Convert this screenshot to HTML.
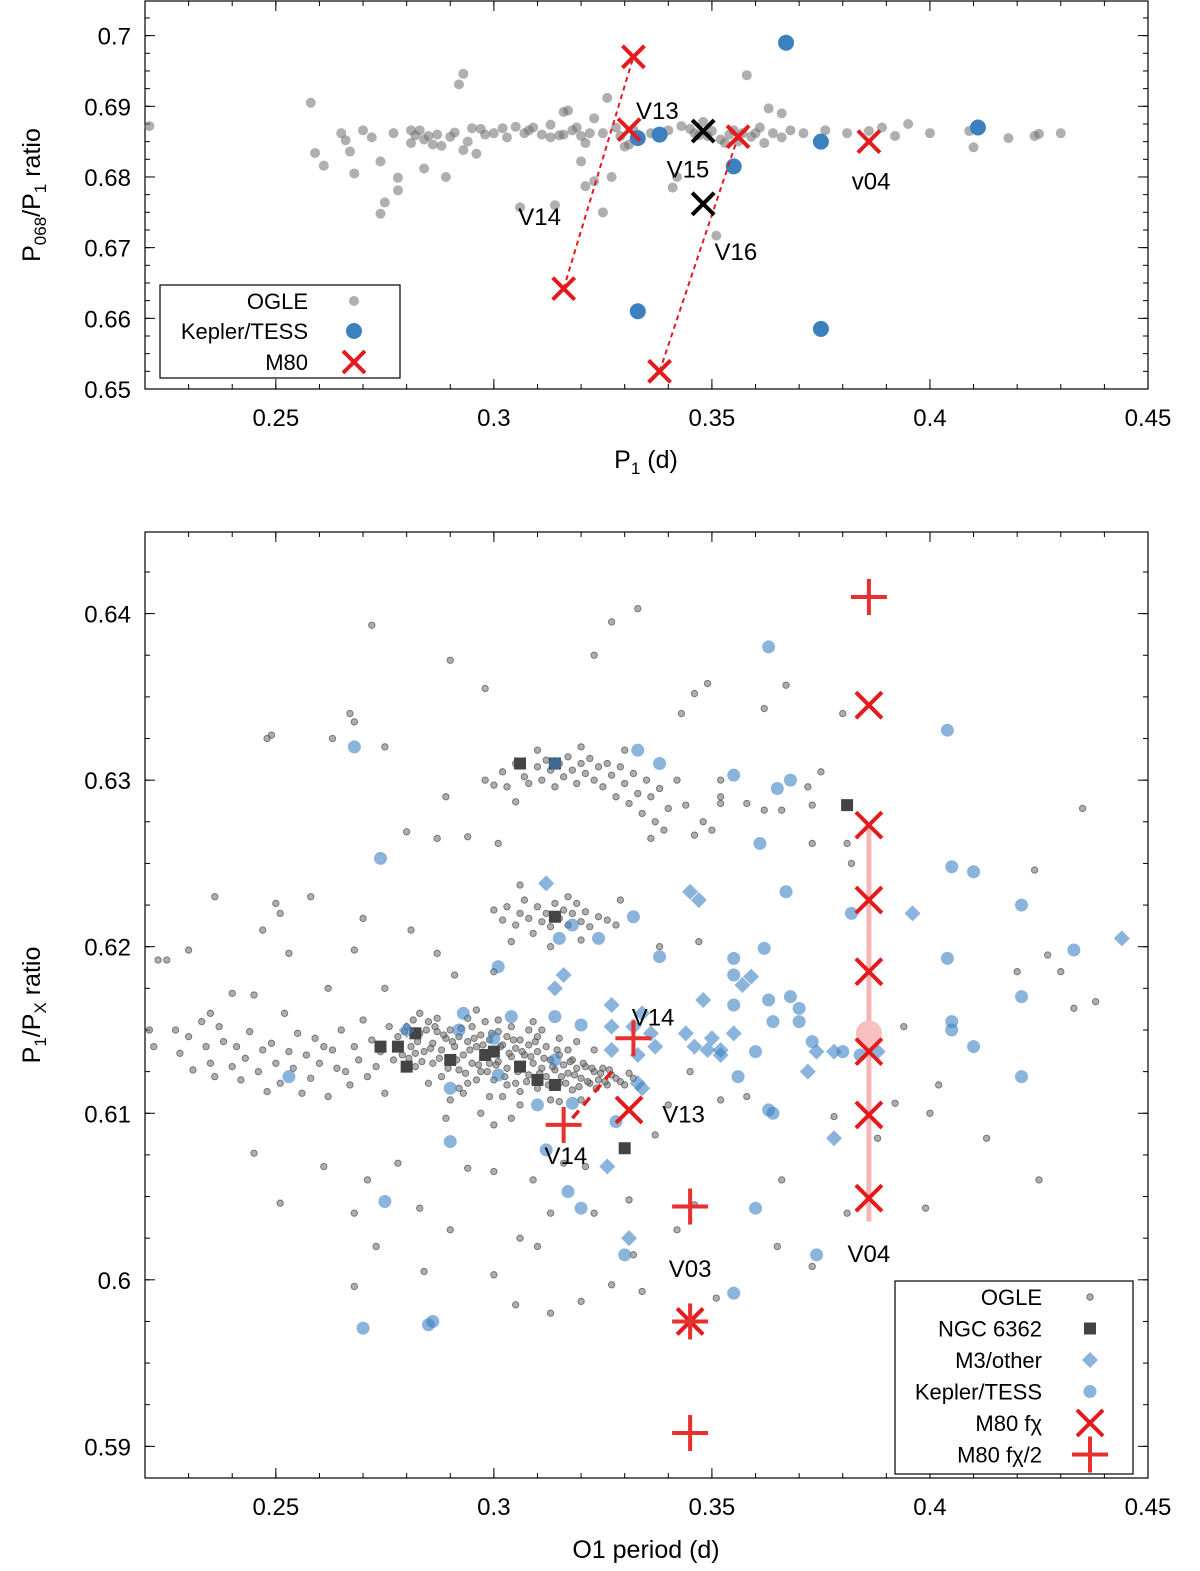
<!DOCTYPE html>
<html><head><meta charset="utf-8"><style>
body{margin:0;background:#fff;}
svg{display:block;font-family:"Liberation Sans",sans-serif;}
</style></head><body>
<svg id="fig" width="1200" height="1571" viewBox="0 0 1200 1571" xmlns="http://www.w3.org/2000/svg"></svg>
<script>
// ---------- TOP PANEL DATA ----------
const topOgle = [[0.221,0.6872],[0.258,0.6905],[0.259,0.6834],[0.261,0.6816],[0.265,0.6862],[0.266,0.6852],[0.267,0.6836],[0.268,0.6805],[0.270,0.6866],[0.272,0.6856],[0.274,0.6822],[0.274,0.6748],[0.275,0.6764],[0.277,0.6862],[0.278,0.6799],[0.278,0.6781],[0.281,0.6866],[0.281,0.6848],[0.282,0.6859],[0.283,0.6866],[0.284,0.6853],[0.284,0.6812],[0.285,0.6858],[0.286,0.6846],[0.287,0.6860],[0.288,0.6844],[0.289,0.6800],[0.290,0.6857],[0.291,0.6863],[0.292,0.6931],[0.293,0.6946],[0.293,0.6838],[0.294,0.6850],[0.295,0.6869],[0.296,0.6833],[0.297,0.6868],[0.298,0.6860],[0.300,0.6862],[0.302,0.6869],[0.303,0.6856],[0.305,0.6871],[0.306,0.6757],[0.307,0.6862],[0.308,0.6866],[0.309,0.6870],[0.311,0.6860],[0.313,0.6856],[0.313,0.6874],[0.314,0.6760],[0.315,0.6859],[0.316,0.6892],[0.316,0.6860],[0.317,0.6894],[0.318,0.6866],[0.319,0.6870],[0.320,0.6858],[0.320,0.6822],[0.321,0.6848],[0.321,0.6787],[0.322,0.6862],[0.323,0.6794],[0.323,0.6883],[0.325,0.6862],[0.325,0.6750],[0.326,0.6912],[0.327,0.6800],[0.328,0.6870],[0.329,0.6858],[0.330,0.6843],[0.331,0.6846],[0.332,0.6867],[0.336,0.6862],[0.340,0.6866],[0.341,0.6785],[0.342,0.6800],[0.343,0.6872],[0.345,0.6868],[0.346,0.6862],[0.347,0.6859],[0.348,0.6878],[0.349,0.6858],[0.350,0.6865],[0.351,0.6717],[0.352,0.6853],[0.353,0.6848],[0.354,0.6860],[0.355,0.6866],[0.356,0.6850],[0.357,0.6862],[0.358,0.6944],[0.359,0.6857],[0.360,0.6862],[0.361,0.6870],[0.362,0.6848],[0.363,0.6897],[0.364,0.6862],[0.366,0.6890],[0.366,0.6856],[0.368,0.6866],[0.371,0.6862],[0.376,0.6866],[0.381,0.6862],[0.386,0.6865],[0.389,0.6870],[0.392,0.6858],[0.395,0.6875],[0.400,0.6862],[0.409,0.6865],[0.410,0.6842],[0.418,0.6855],[0.424,0.6858],[0.425,0.6861],[0.430,0.6862]];
const topKepler = [[0.333,0.6855],[0.338,0.686],[0.367,0.699],[0.355,0.6815],[0.375,0.685],[0.411,0.687],[0.333,0.661],[0.375,0.6585]];
const topM80 = [[0.332,0.697],[0.331,0.6867],[0.356,0.6857],[0.386,0.685],[0.316,0.6642],[0.338,0.6525]];
const topBlack = [[0.348,0.6865],[0.348,0.6762]];
const topLinks = [[0.316,0.6642,0.332,0.697],[0.338,0.6525,0.356,0.6857]];
const topLabels = [["V13",0.3375,0.6895],["V15",0.3445,0.6812],["v04",0.3865,0.6795],["V14",0.3105,0.6745],["V16",0.3555,0.6695]];
const topXTicks = [0.25,0.3,0.35,0.4,0.45];
const topYTicks = [0.65,0.66,0.67,0.68,0.69,0.7];

// ---------- BOTTOM PANEL DATA ----------
const botOgle = [[0.221,0.6150],[0.222,0.6140],[0.225,0.6192],[0.227,0.6150],[0.228,0.6136],[0.230,0.6146],[0.231,0.6126],[0.233,0.6155],[0.234,0.6140],[0.235,0.6130],[0.236,0.6122],[0.237,0.6152],[0.238,0.6143],[0.240,0.6128],[0.241,0.6140],[0.242,0.6120],[0.243,0.6133],[0.244,0.6149],[0.245,0.6171],[0.245,0.6076],[0.246,0.6125],[0.247,0.6138],[0.248,0.6113],[0.249,0.6142],[0.250,0.6130],[0.251,0.6118],[0.252,0.6160],[0.253,0.6137],[0.254,0.6127],[0.255,0.6148],[0.256,0.6112],[0.257,0.6135],[0.258,0.6121],[0.259,0.6145],[0.260,0.6130],[0.261,0.6140],[0.262,0.6110],[0.263,0.6138],[0.264,0.6127],[0.265,0.6150],[0.266,0.6125],[0.267,0.6117],[0.268,0.6140],[0.269,0.6132],[0.270,0.6156],[0.271,0.6122],[0.272,0.6144],[0.273,0.6128],[0.274,0.6137],[0.275,0.6112],[0.276,0.6152],[0.277,0.6132],
[0.278,0.6146],[0.279,0.6135],[0.280,0.6152],[0.281,0.6140],[0.282,0.6128],[0.283,0.6148],[0.284,0.6137],[0.285,0.6155],[0.286,0.6142],[0.286,0.6130],[0.287,0.6149],[0.288,0.6138],[0.288,0.6122],[0.289,0.6145],[0.290,0.6133],[0.290,0.6150],[0.291,0.6140],[0.292,0.6126],[0.292,0.6146],[0.293,0.6135],[0.294,0.6143],[0.294,0.6118],[0.295,0.6152],[0.295,0.6130],[0.296,0.6140],[0.297,0.6125],[0.297,0.6147],[0.298,0.6136],[0.299,0.6130],[0.299,0.6144],[0.300,0.6138],[0.300,0.6120],[0.301,0.6149],[0.301,0.6131],[0.302,0.6141],[0.303,0.6127],[0.303,0.6146],[0.304,0.6134],[0.305,0.6139],[0.305,0.6118],[0.306,0.6144],[0.306,0.6128],[0.307,0.6135],[0.308,0.6123],[0.308,0.6141],[0.309,0.6130],[0.310,0.6137],[0.310,0.6115],[0.311,0.6127],[0.312,0.6140],[0.312,0.6122],[0.313,0.6132],[0.314,0.6126],[0.315,0.6135],[0.315,0.6118],[0.316,0.6129],[0.317,0.6124],[0.318,0.6132],[0.318,0.6114],[0.319,0.6127],[0.320,0.6121],[0.321,0.6128],[0.322,0.6118],[0.323,0.6125],[0.324,0.6120],[0.325,0.6127],[0.326,0.6117],[0.327,0.6123],[0.329,0.6119],[0.331,0.6124],[0.283,0.6160],[0.290,0.6108],[0.296,0.6162],[0.302,0.6110],[0.309,0.6155],[0.315,0.6107],[0.297,0.6100],[0.304,0.6097],[0.311,0.6150],[0.289,0.6097],[0.300,0.6093],[0.306,0.6105],[0.293,0.6112],[0.319,0.6143],[0.323,0.6138],
[0.2785,0.6141],[0.2795,0.6149],[0.2805,0.6133],[0.2815,0.6156],[0.2825,0.6143],[0.2835,0.6131],[0.2845,0.6150],[0.2855,0.6139],[0.2865,0.6152],[0.2875,0.6133],[0.2885,0.6147],[0.2895,0.6127],[0.2905,0.6143],[0.2915,0.6132],[0.2925,0.6151],[0.2935,0.6124],[0.2945,0.6138],[0.2955,0.6145],[0.2965,0.6129],[0.2975,0.6141],[0.2985,0.6125],[0.2995,0.6148],[0.3005,0.6129],[0.3015,0.6140],[0.3025,0.6122],[0.3035,0.6136],[0.3045,0.6144],[0.3055,0.6125],[0.3065,0.6137],[0.3075,0.6119],[0.3085,0.6134],[0.3095,0.6143],[0.3105,0.6124],[0.3115,0.6133],[0.3125,0.6117],[0.3135,0.6128],[0.3145,0.6138],[0.3155,0.6122],[0.3165,0.6118],[0.3175,0.6131],[0.3185,0.6123],[0.3195,0.6116],[0.3205,0.6130],[0.3215,0.6119],[0.3225,0.6127],[0.3235,0.6115],[0.3245,0.6124],[0.3255,0.6119],[0.3265,0.6126],[0.3280,0.6121],[0.3300,0.6117],[0.3320,0.6121],[0.2870,0.6157],[0.2940,0.6157],[0.3010,0.6156],[0.3080,0.6150],[0.3150,0.6145],[0.2920,0.6115],[0.2990,0.6110],[0.3060,0.6113],[0.3130,0.6108],[0.3200,0.6108],[0.2850,0.6118],[0.2820,0.6136],[0.2960,0.6120],[0.3030,0.6117],[0.3100,0.6146],[0.3170,0.6138],[0.3040,0.6152],[0.2980,0.6155],
[0.298,0.6300],[0.300,0.6297],[0.302,0.6305],[0.303,0.6296],[0.305,0.6310],[0.307,0.6302],[0.308,0.6298],[0.310,0.6308],[0.311,0.6300],[0.312,0.6312],[0.313,0.6306],[0.314,0.6296],[0.315,0.6310],[0.316,0.6302],[0.317,0.6314],[0.318,0.6306],[0.319,0.6298],[0.320,0.6310],[0.321,0.6304],[0.322,0.6313],[0.323,0.6300],[0.324,0.6308],[0.325,0.6296],[0.326,0.6310],[0.327,0.6303],[0.328,0.6290],[0.329,0.6308],[0.330,0.6298],[0.331,0.6286],[0.332,0.6304],[0.333,0.6292],[0.334,0.6280],[0.335,0.6300],[0.336,0.6290],[0.337,0.6275],[0.338,0.6295],[0.339,0.6270],[0.340,0.6283],[0.342,0.6300],[0.344,0.6285],[0.330,0.6318],[0.320,0.6320],[0.310,0.6318],[0.305,0.6287],[0.336,0.6265],[0.348,0.6275],[0.352,0.6300],[0.352,0.6290],
[0.300,0.6222],[0.302,0.6216],[0.303,0.6224],[0.305,0.6213],[0.306,0.6220],[0.307,0.6228],[0.308,0.6217],[0.309,0.6208],[0.310,0.6224],[0.311,0.6215],[0.312,0.6220],[0.313,0.6212],[0.314,0.6226],[0.315,0.6217],[0.316,0.6222],[0.317,0.6213],[0.318,0.6220],[0.319,0.6226],[0.320,0.6215],[0.321,0.6221],[0.322,0.6212],[0.324,0.6218],[0.326,0.6216],[0.328,0.6213],[0.329,0.6228],[0.304,0.6203],[0.313,0.6200],[0.320,0.6204],[0.306,0.6237],[0.317,0.6230],
[0.267,0.6340],[0.268,0.6335],[0.272,0.6393],[0.249,0.6327],[0.248,0.6325],[0.263,0.6325],[0.275,0.6320],[0.290,0.6372],[0.298,0.6355],[0.323,0.6375],[0.327,0.6395],[0.333,0.6403],[0.346,0.6352],[0.349,0.6358],[0.343,0.6340],[0.362,0.6343],[0.367,0.6357],[0.380,0.6340],[0.372,0.6296],[0.375,0.6305],[0.373,0.6285],[0.381,0.6262],[0.382,0.6250],[0.373,0.6262],[0.366,0.6282],[0.362,0.6282],[0.358,0.6286],[0.352,0.6286],[0.350,0.6270],[0.346,0.6267],[0.435,0.6283],[0.289,0.6290],[0.294,0.6266],[0.301,0.6262],[0.280,0.6269],[0.287,0.6265],[0.258,0.6230],[0.236,0.6230],[0.247,0.6210],[0.250,0.6226],[0.251,0.6220],[0.270,0.6217],[0.281,0.6210],[0.287,0.6196],[0.291,0.6183],[0.300,0.6185],[0.230,0.6198],[0.223,0.6192],[0.253,0.6196],[0.275,0.6175],[0.240,0.6172],[0.235,0.6160],[0.262,0.6175],[0.268,0.6198],[0.424,0.6246],[0.430,0.6185],[0.427,0.6195],[0.420,0.6185],[0.433,0.6163],[0.438,0.6167],[0.347,0.6203],[0.338,0.6200],[0.394,0.6152],[0.402,0.6117],[0.413,0.6085],[0.400,0.6100],[0.392,0.6106],[0.388,0.6085],[0.378,0.6098],[0.358,0.6110],[0.352,0.6108],[0.345,0.6125],[0.340,0.6105],[0.337,0.6087],[0.300,0.6065],[0.309,0.6060],[0.294,0.6067],[0.278,0.6070],[0.271,0.6060],[0.268,0.6040],[0.261,0.6068],[0.251,0.6046],[0.283,0.6043],[0.290,0.6030],[0.316,0.6070],[0.321,0.6068],[0.323,0.6040],[0.331,0.6048],[0.313,0.6040],[0.300,0.6003],[0.327,0.5997],[0.305,0.5985],[0.320,0.5987],[0.268,0.5996],[0.273,0.6020],[0.284,0.6005],[0.365,0.6020],[0.373,0.6008],[0.351,0.5989],[0.342,0.6030],[0.346,0.6045],[0.366,0.6060],[0.425,0.6060],[0.399,0.6043],[0.381,0.6040],[0.334,0.5993],[0.313,0.5980],[0.332,0.6015],[0.310,0.6020],[0.306,0.6025]];
const botNgc = [[0.274,0.614],[0.278,0.614],[0.280,0.6128],[0.282,0.6148],[0.290,0.6132],[0.306,0.631],[0.314,0.631],[0.314,0.6218],[0.306,0.6128],[0.310,0.612],[0.314,0.6117],[0.300,0.6137],[0.330,0.6079],[0.381,0.6285],[0.298,0.6135]];
const botM3 = [[0.312,0.6238],[0.316,0.6183],[0.314,0.6175],[0.327,0.6165],[0.327,0.6152],[0.332,0.6152],[0.334,0.616],[0.336,0.6148],[0.337,0.614],[0.333,0.6135],[0.333,0.6118],[0.327,0.6138],[0.345,0.6233],[0.347,0.6228],[0.348,0.6168],[0.344,0.6148],[0.350,0.6145],[0.346,0.614],[0.352,0.6135],[0.355,0.6148],[0.357,0.6177],[0.359,0.6182],[0.352,0.6138],[0.349,0.6138],[0.372,0.6125],[0.374,0.6137],[0.378,0.6137],[0.378,0.6085],[0.396,0.622],[0.388,0.6137],[0.444,0.6205],[0.326,0.6068],[0.331,0.6025],[0.280,0.615],[0.334,0.6115]];
const botKepler = [[0.363,0.638],[0.404,0.633],[0.268,0.632],[0.333,0.6318],[0.314,0.631],[0.338,0.631],[0.355,0.6303],[0.365,0.6295],[0.368,0.630],[0.274,0.6253],[0.361,0.6262],[0.367,0.6233],[0.405,0.6248],[0.410,0.6245],[0.421,0.6225],[0.382,0.622],[0.332,0.6218],[0.318,0.6213],[0.315,0.6205],[0.324,0.6205],[0.301,0.6188],[0.338,0.6194],[0.355,0.6193],[0.362,0.6199],[0.355,0.6183],[0.404,0.6193],[0.433,0.6198],[0.421,0.617],[0.355,0.6165],[0.363,0.6168],[0.368,0.617],[0.370,0.6163],[0.364,0.6155],[0.370,0.6155],[0.405,0.6155],[0.405,0.615],[0.410,0.614],[0.293,0.616],[0.304,0.6158],[0.314,0.6158],[0.320,0.6153],[0.292,0.615],[0.300,0.6145],[0.380,0.6137],[0.385,0.6145],[0.360,0.6137],[0.373,0.6143],[0.384,0.6135],[0.356,0.6122],[0.363,0.6102],[0.364,0.61],[0.421,0.6122],[0.253,0.6122],[0.290,0.6115],[0.310,0.6105],[0.318,0.6106],[0.290,0.6083],[0.328,0.6095],[0.312,0.6078],[0.317,0.6053],[0.320,0.6043],[0.330,0.6015],[0.360,0.6043],[0.374,0.6015],[0.355,0.5992],[0.270,0.5971],[0.286,0.5975],[0.285,0.5973],[0.275,0.6047],[0.301,0.6123],[0.314,0.6132]];
const botFx = [[0.386,0.6345],[0.386,0.6273],[0.386,0.6228],[0.386,0.6185],[0.386,0.6137],[0.386,0.6099],[0.386,0.6049],[0.331,0.6102],[0.345,0.5975]];
const botFx2 = [[0.386,0.641],[0.332,0.6145],[0.316,0.6093],[0.345,0.6044],[0.345,0.5975],[0.345,0.5908]];
const botV04Range = [0.386,0.6273,0.6035];
const botV04Mean = [0.386,0.6148];
const botLink = [0.318,0.6097,0.328,0.6128];
const botLabels = [["V14",0.3365,0.6158],["V13",0.3435,0.6100],["V14",0.3165,0.6075],["V03",0.345,0.6007],["V04",0.386,0.6016]];
const botXTicks = [0.25,0.3,0.35,0.4,0.45];
const botYTicks = [0.59,0.6,0.61,0.62,0.63,0.64];

const NS="http://www.w3.org/2000/svg";
const svg=document.getElementById('fig');
function mk(tag,attrs,parent){const e=document.createElementNS(NS,tag);for(const k in attrs)e.setAttribute(k,attrs[k]);(parent||svg).appendChild(e);return e;}
function txt(s,x,y,size,anchor,parent){const t=mk('text',{x:x,y:y,'font-size':size,'text-anchor':anchor||'middle',fill:'#000'},parent);t.textContent=s;return t;}

function axes(L,R,T,B,x0,x1,y0,y1){
  const sx=v=>L+(v-x0)/(x1-x0)*(R-L);
  const sy=v=>B-(v-y0)/(y1-y0)*(B-T);
  return {sx,sy};
}
function frame(g,L,R,T,B,sx,sy,xt,yt,xMinorStep,yMinorStep,x0,x1,y0,y1){
  mk('rect',{x:L,y:T,width:R-L,height:B-T,fill:'none',stroke:'#000','stroke-width':1.2},g);
  for(let v=Math.ceil(x0/xMinorStep-1e-9)*xMinorStep;v<=x1+1e-9;v+=xMinorStep){const X=sx(v);mk('line',{x1:X,y1:B,x2:X,y2:B-5,stroke:'#000'},g);mk('line',{x1:X,y1:T,x2:X,y2:T+5,stroke:'#000'},g);}
  for(let v=Math.ceil(y0/yMinorStep-1e-9)*yMinorStep;v<=y1+1e-9;v+=yMinorStep){const Y=sy(v);mk('line',{x1:L,y1:Y,x2:L+5,y2:Y,stroke:'#000'},g);mk('line',{x1:R,y1:Y,x2:R-5,y2:Y,stroke:'#000'},g);}
  xt.forEach(v=>{const X=sx(v);mk('line',{x1:X,y1:B,x2:X,y2:B-10,stroke:'#000'},g);mk('line',{x1:X,y1:T,x2:X,y2:T+10,stroke:'#000'},g);
    const t=txt(String(v),X,B+37,24,'middle',g);});
  yt.forEach(v=>{const Y=sy(v);mk('line',{x1:L,y1:Y,x2:L+10,y2:Y,stroke:'#000'},g);mk('line',{x1:R,y1:Y,x2:R-10,y2:Y,stroke:'#000'},g);
    const t=txt(String(v),L-14,Y+9,24,'end',g);});
}
function cross(g,x,y,s,color,w){mk('line',{x1:x-s,y1:y-s,x2:x+s,y2:y+s,stroke:color,'stroke-width':w},g);mk('line',{x1:x-s,y1:y+s,x2:x+s,y2:y-s,stroke:color,'stroke-width':w},g);}
function plus(g,x,y,s,color,w){mk('line',{x1:x-s,y1:y,x2:x+s,y2:y,stroke:color,'stroke-width':w},g);mk('line',{x1:x,y1:y-s,x2:x,y2:y+s,stroke:color,'stroke-width':w},g);}

// ===== TOP PANEL =====
(function(){
  const L=145,R=1148,T=1,B=389,x0=0.22,x1=0.45,y0=0.65,y1=0.7049;
  const {sx,sy}=axes(L,R,T,B,x0,x1,y0,y1);
  const g=mk('g',{});
  
  
  frame(g,L,R,T,B,sx,sy,topXTicks,topYTicks,0.01,0.0025,x0,x1,y0,y1);
  const og=mk('g',{},g);
  topOgle.forEach(p=>{const c=mk('circle',{cx:sx(p[0]),cy:sy(p[1]),r:5,fill:'rgba(110,110,110,0.55)'},og);});
  const kg=mk('g',{},g);
  topKepler.forEach(p=>{const c=mk('circle',{cx:sx(p[0]),cy:sy(p[1]),r:8,fill:'#3b80bf'},kg);});
  topLinks.forEach(l=>{const e=mk('line',{x1:sx(l[0]),y1:sy(l[1]),x2:sx(l[2]),y2:sy(l[3]),stroke:'#e41a1c','stroke-width':2,'stroke-dasharray':'5,4'},g);});
  const mg=mk('g',{},g);
  topM80.forEach(p=>cross(mg,sx(p[0]),sy(p[1]),11,'#e41a1c',4));
  topBlack.forEach(p=>cross(mg,sx(p[0]),sy(p[1]),11,'#000',4));
  topLabels.forEach(l=>{const t=txt(l[0],sx(l[1]),sy(l[2])+9,24,'middle',g);});
  const xl=txt('',646,468,25,'middle',g);xl.innerHTML='P<tspan font-size="17" dy="6">1</tspan><tspan dy="-6"> (d)</tspan>';
  
  const yl=mk('text',{x:0,y:0,'font-size':25,'text-anchor':'middle',transform:'translate(40,195) rotate(-90)'},g);
  yl.innerHTML='P<tspan font-size="17" dy="6">068</tspan><tspan dy="-6">/P</tspan><tspan font-size="17" dy="6">1</tspan><tspan dy="-6"> ratio</tspan>';
  
  const lg=mk('g',{},g);
  mk('rect',{x:160,y:285,width:240,height:93,fill:'#fff',stroke:'#000','stroke-width':1.2},lg);
  let t=txt('OGLE',308,309,22,'end',lg);
  mk('circle',{cx:354,cy:301,r:5,fill:'rgba(110,110,110,0.55)'},lg);
  t=txt('Kepler/TESS',308,339,22,'end',lg);
  mk('circle',{cx:354,cy:331,r:8,fill:'#3b80bf'},lg);
  t=txt('M80',308,370,22,'end',lg);
  cross(lg,354,362,11,'#e41a1c',4);
})();

// ===== BOTTOM PANEL =====
(function(){
  const L=145,R=1148,T=532,B=1478,x0=0.22,x1=0.45,y0=0.5881,y1=0.6449;
  const {sx,sy}=axes(L,R,T,B,x0,x1,y0,y1);
  const g=mk('g',{});
  
  
  frame(g,L,R,T,B,sx,sy,botXTicks,botYTicks,0.01,0.0025,x0,x1,y0,y1);
  const og=mk('g',{},g);
  botOgle.forEach(p=>{const c=mk('circle',{cx:sx(p[0]),cy:sy(p[1]),r:3.2,fill:'rgba(120,120,120,0.6)',stroke:'rgba(60,60,60,0.65)','stroke-width':0.9},og);});
  const ng=mk('g',{},g);
  botNgc.forEach(p=>{const r=mk('rect',{x:sx(p[0])-6,y:sy(p[1])-6,width:12,height:12,fill:'#444'},ng);});
  const dg=mk('g',{},g);
  botM3.forEach(p=>{const X=sx(p[0]),Y=sy(p[1]);const d=mk('polygon',{points:`${X},${Y-8} ${X+8},${Y} ${X},${Y+8} ${X-8},${Y}`,fill:'rgba(60,130,195,0.6)'},dg);});
  const kg=mk('g',{},g);
  botKepler.forEach(p=>{const c=mk('circle',{cx:sx(p[0]),cy:sy(p[1]),r:6.5,fill:'rgba(60,130,195,0.6)'},kg);});
  let e=mk('line',{x1:sx(botV04Range[0]),y1:sy(botV04Range[1]),x2:sx(botV04Range[0]),y2:sy(botV04Range[2]),stroke:'#f7b6b6','stroke-width':5},g);
  
  e=mk('circle',{cx:sx(botV04Mean[0]),cy:sy(botV04Mean[1]),r:13,fill:'#f8c0c0'},g);
  
  e=mk('line',{x1:sx(botLink[0]),y1:sy(botLink[1]),x2:sx(botLink[2]),y2:sy(botLink[3]),stroke:'#e41a1c','stroke-width':3.5,'stroke-dasharray':'10,7'},g);
  
  const fg=mk('g',{},g);
  botFx.forEach(p=>cross(fg,sx(p[0]),sy(p[1]),13,'#e41a1c',4));
  const pg=mk('g',{},g);
  botFx2.forEach(p=>plus(pg,sx(p[0]),sy(p[1]),18,'#e8302e',4));
  botLabels.forEach(l=>{const t=txt(l[0],sx(l[1]),sy(l[2])+9,24,'middle',g);});
  let t=txt('O1 period (d)',646,1558,25,'middle',g);
  const yl=mk('text',{x:0,y:0,'font-size':25,'text-anchor':'middle',transform:'translate(40,1005) rotate(-90)'},g);
  yl.innerHTML='P<tspan font-size="17" dy="6">1</tspan><tspan dy="-6">/P</tspan><tspan font-size="17" dy="6">X</tspan><tspan dy="-6"> ratio</tspan>';
  
  const lg=mk('g',{},g);
  mk('rect',{x:895,y:1281,width:238,height:193,fill:'#fff',stroke:'#000','stroke-width':1.2},lg);
  const names=['OGLE','NGC 6362','M3/other','Kepler/TESS','M80 f\u03C7','M80 f\u03C7/2'];
  names.forEach((n,i)=>{const Y=1297+i*31.5;const tt=txt(n,1042,Y+8,22,'end',lg);
    const X=1090;
    if(i==0)mk('circle',{cx:X,cy:Y,r:3.2,fill:'rgba(120,120,120,0.6)',stroke:'rgba(60,60,60,0.65)'},lg);
    if(i==1)mk('rect',{x:X-6,y:Y-6,width:12,height:12,fill:'#444'},lg);
    if(i==2)mk('polygon',{points:`${X},${Y-8} ${X+8},${Y} ${X},${Y+8} ${X-8},${Y}`,fill:'rgba(60,130,195,0.6)'},lg);
    if(i==3)mk('circle',{cx:X,cy:Y,r:6.5,fill:'rgba(60,130,195,0.6)'},lg);
    if(i==4)cross(lg,X,Y,13,'#e41a1c',4);
    if(i==5)plus(lg,X,Y,18,'#e8302e',4);
  });
})();
</script>
</body></html>
